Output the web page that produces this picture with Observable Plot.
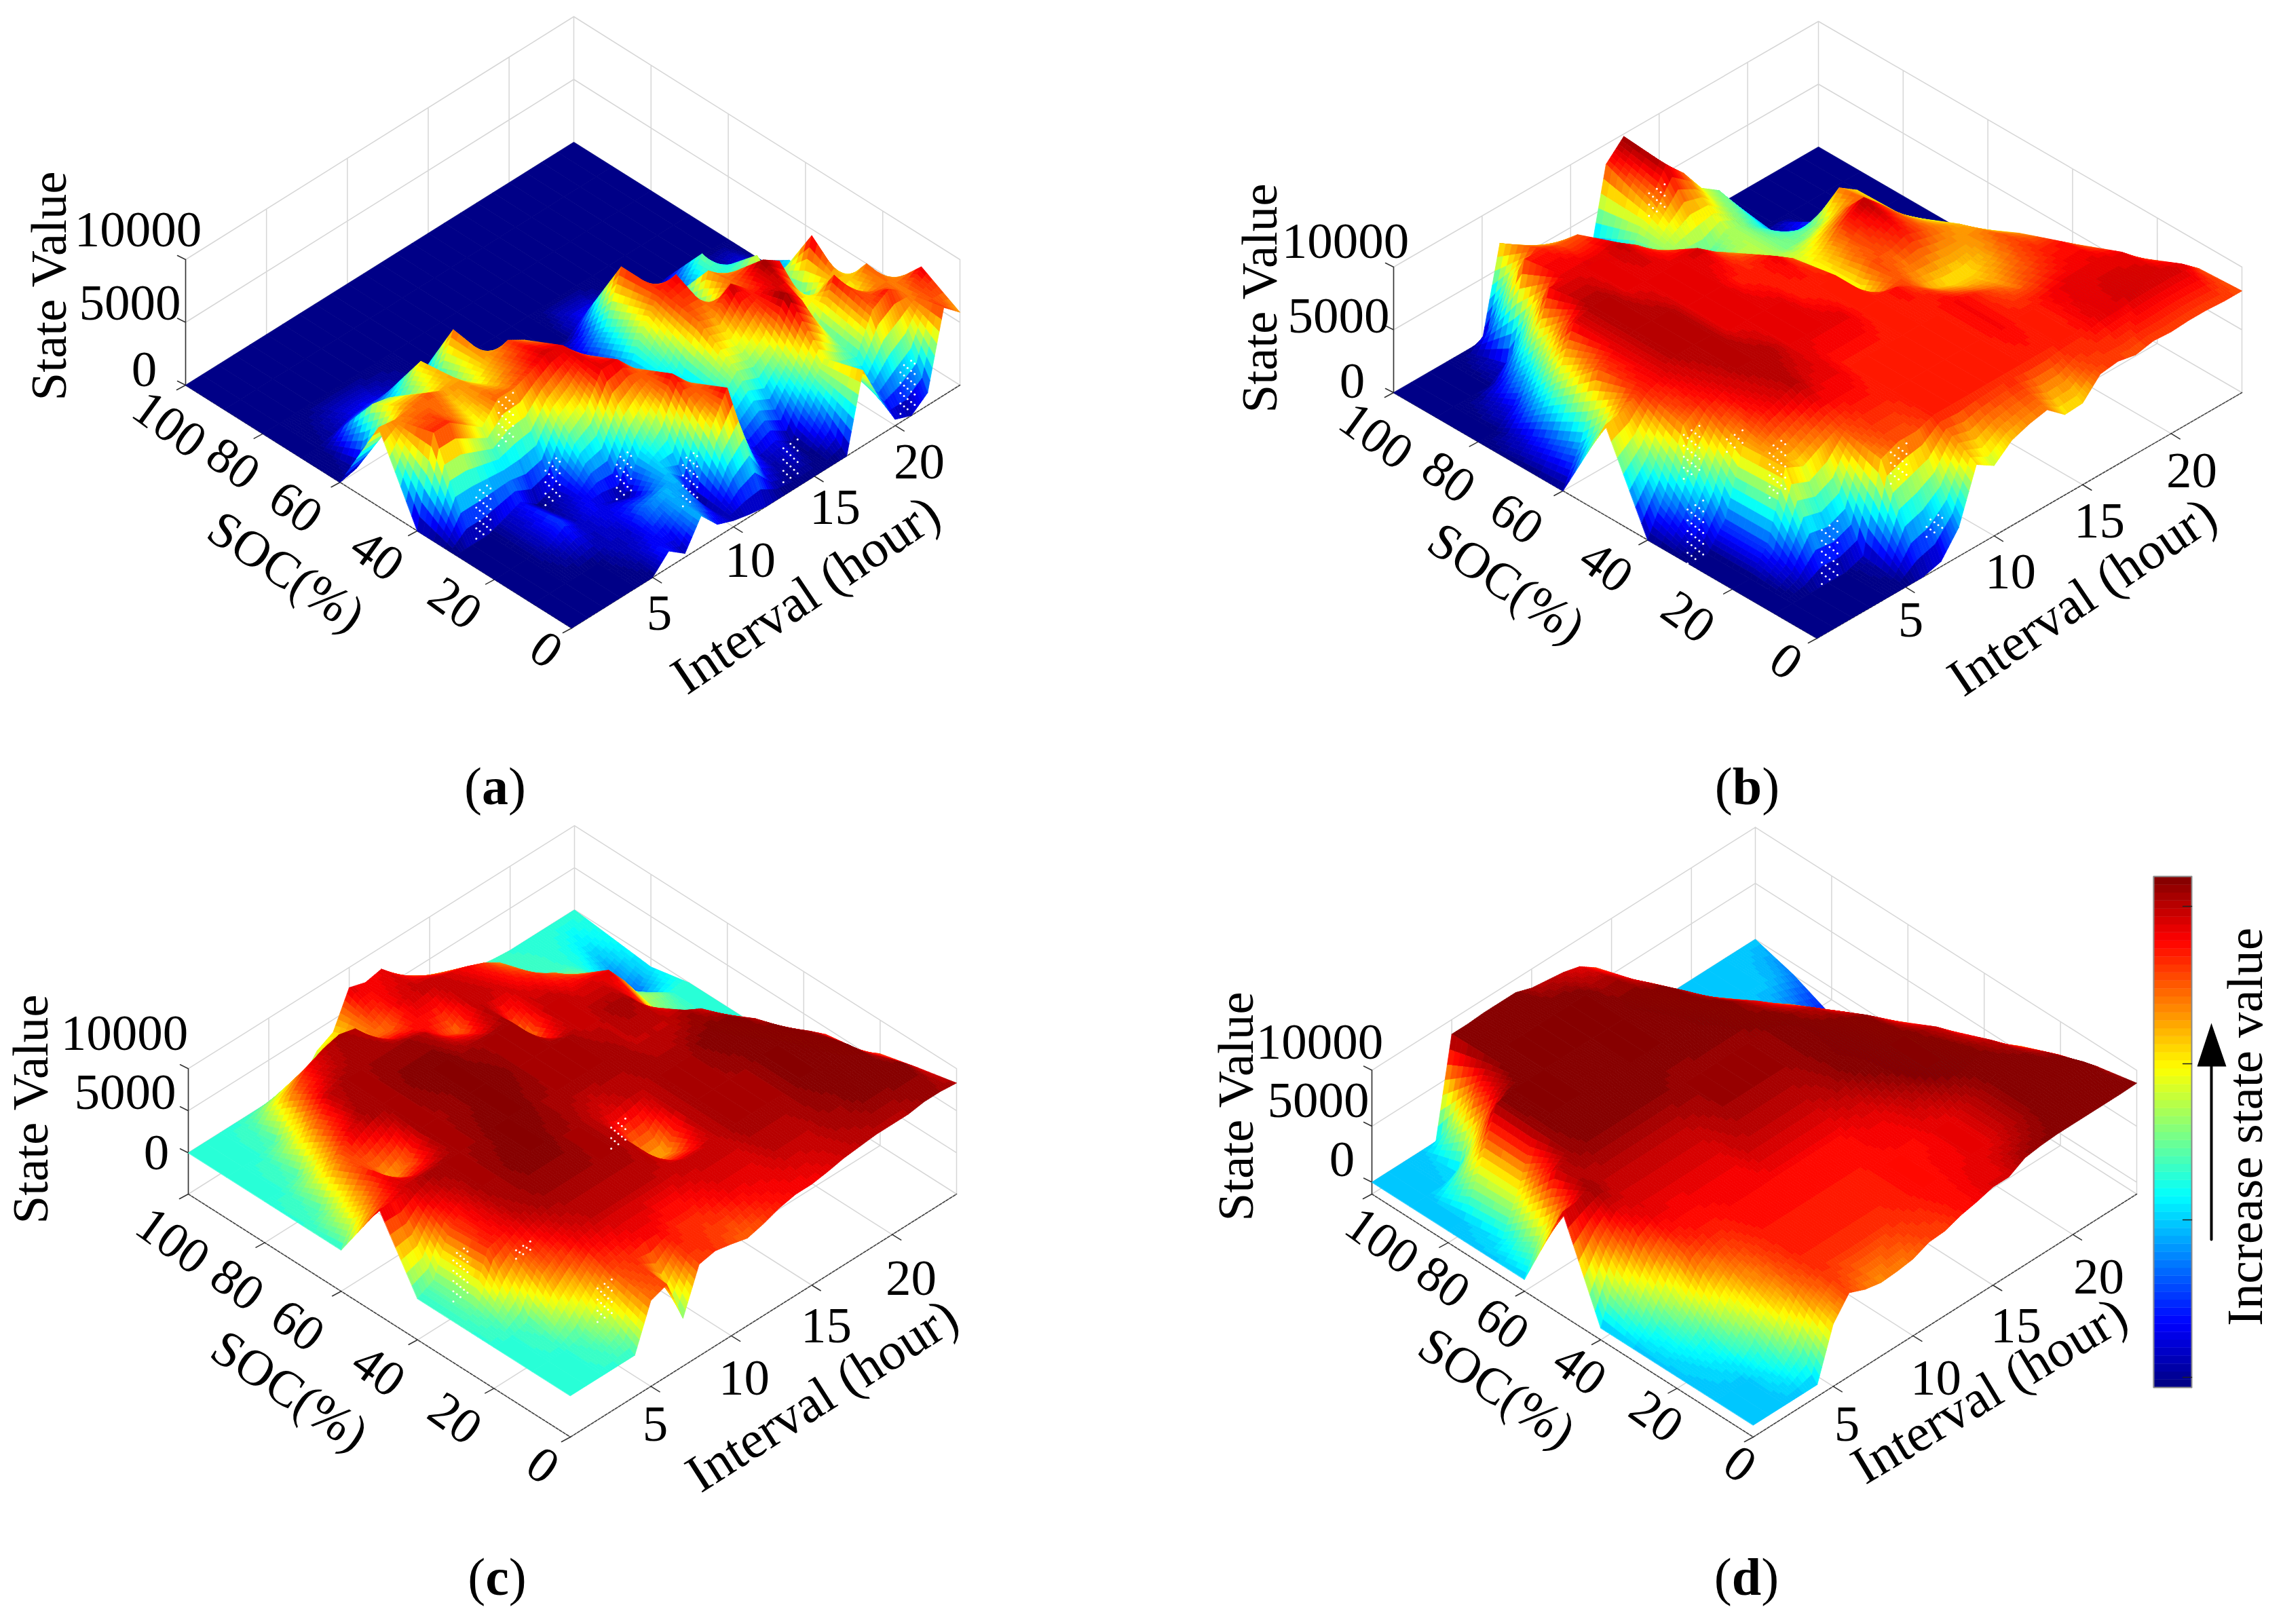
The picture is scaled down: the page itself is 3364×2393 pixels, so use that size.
<!DOCTYPE html>
<html><head><meta charset="utf-8">
<style>html,body{margin:0;padding:0;background:#fff}</style>
<script src="https://cdn.jsdelivr.net/npm/d3@7"></script>
<script src="https://cdn.jsdelivr.net/npm/@observablehq/plot@0.6"></script>
</head><body><script>
// State value in thousands, rows SOC 100..0 step 10, columns interval 0..24
const socLevels=[100,90,80,70,60,50,40,30,20,10,0];
const intervalHours=[0,1,2,3,4,5,6,7,8,9,10,11,12,13,14,15,16,17,18,19,20,21,22,23,24];
const stateA=[
[0,0,0,0,0,0,0,0,0,0,0,0,0,0,0,0,0,0,0,0,0,0,0,0,0],
[0,0,0,0,0,0,0,0,0,0,0,0,0,0,0,0,0,0,0,0,0,0,0,0,0],
[0,0,0,0,0,0,0,0,0,0,0,0,0,0,0,0,0,0,0,0,0,0,0,0,0],
[0,0,.3,.8,1,.8,.5,.3,0,0,0,0,0,0,0,0,0,0,0,0,0,0,0,0,0],
[0,.3,4.6,4.3,3.7,5.6,3,6.5,2,.5,0,0,0,0,0,1,1,.5,0,0,0,0,0,0,0],
[6.3,6.1,6.3,6.6,6,6,5,6,6.8,6,4,3,2,1,3,7,3,1.5,2,2,4,2,.5,1,0],
[0,7,7,6,5,6.5,6.5,7,7.7,7.5,6,4,3,2,5,7,7.5,2,6.2,5,3,5,2,3,1],
[0,0,0,.5,1,0,.5,4,5,7.5,7.5,6,4,3,3,6.5,6,7.9,6.7,8.2,7.3,2,7.7,2.3,2],
[0,0,0,.5,1.5,.5,1,.5,0,3,5,7.5,6,3,3,4.5,4,5,8.3,6.9,4,7.3,5,6.6,4],
[0,0,0,0,0,.5,.5,2,2.5,2.5,0,5,7.5,2,.5,.9,0,3,5,4,3.5,6.5,7.3,6.2,7.5],
[0,0,0,0,0,0,1.3,.3,2.5,1,.5,.2,0,0,0,0,0,0,6,3,.5,0,1,7,5.8]];
const stateB=[
[0,0,0,0,0,0,7,6,4.7,4,3.2,1,8.4,9.8,7,4,0,0,0,0,0,0,0,0,0],
[0,0,0,0,1,8.5,8.5,8,8,5,5,4,7,9.5,8,6,5,3,0,0,0,0,0,0,0],
[0,0,1.2,4,9,9,9,9,9.3,8.3,7,5.5,5,4.5,5.5,5,4,2.5,1,2,0,0,0,0,0],
[0,1.5,5,9,9.5,9.5,9,9,9,9,9.2,8.1,7.2,6,5.5,5,5,5.5,7.5,6.5,1,0,0,0,0],
[0,3,8,9,9.5,9.5,9.5,9,9,9,8.5,8.5,8.9,7.9,6,7,8.5,9.5,8.1,6.6,5.4,0,0,0,0],
[7.2,7.5,8.5,9,9.5,9.5,9.5,9,9,9,9,8.5,8.5,8.5,5.5,8,8,8.5,8,7.5,6.9,5.7,4.6,0,0],
[0,3,7.5,8.5,9,9.5,9.5,9.5,9,9,9,9,8.5,8.5,8.7,8,7,6.5,6.5,7,8,7.3,3,0,0],
[0,0,2,7,8.5,9,9.5,9,9,8.5,8.5,8.5,8.5,8.5,8.5,8.8,8.5,8,7.5,8,8.5,8.6,7.5,3,0],
[0,0,2,7.2,6.5,7.3,8,8.5,8.5,8.5,8.5,8.5,8.5,8.5,8.5,8.8,8.5,8.5,8.8,9,9,9,8.9,7.6,6],
[0,0,0,0,0,.5,7.4,8,8,8.5,8.5,8.5,8.5,8.5,8.5,8.5,8.5,8.5,9,9,9.2,9.2,9.2,9.1,7.9],
[0,0,0,0,0,0,0,.4,2.3,6.5,5.6,6.8,7.3,7.6,6.4,6.5,8,8.2,7.9,8.2,8.1,8.2,8.2,8.1,8.1]];
const stateC=[
[0,0,0,0,0,0,0,0,2.5,3.5,7.6,7,7.4,5.5,4,3,2,1,.5,.2,0,0,0,0,0],
[0,0,0,.5,5,7,8,8.5,8,5.5,5.5,7.5,8,8,7.5,7,6.2,5,2,.5,.2,0,-.5,-1.5,-.5],
[0,0,.5,5,8,8.5,8.5,8.5,8.5,8.5,8,6.5,5.5,8,8,7.5,7,6.5,5.5,4,2.5,1,-1.5,-3,-1],
[0,.5,5,7.5,8.5,8.5,8.5,9,9,9,8.5,8.5,8.5,8.5,5,8,8,7.5,7.5,7.5,5,2,1.2,0,0],
[0,4,7,4.5,5.5,8.5,8.5,8.5,9,9,9,8.5,8.5,8.5,8.5,8,8,8.5,8.3,6,3,1,0,0,0],
[7.7,7.5,8,8.5,8.5,8.5,8.5,9,9,9,8.5,8.5,8.5,8.5,8.5,8.5,8,8,8,8.5,7.5,5.7,2,.5,0],
[0,1,6,7.5,8.5,8.5,9,9,9,8.5,8.5,8,7.5,8,8,8.5,8.5,8.5,9,9,9.2,8,6,3,1],
[0,1,6.4,7,8,8.5,8.5,8.5,8.5,8.5,8.5,8,4.5,4.5,8,8.5,8.5,8.5,8.5,9,9,9.5,8.2,6.6,3],
[0,0,.5,5,6.5,7.5,8,8,8,8,8,8,8,8,8,8.5,8.5,8.5,8.5,9,9,9.5,9.5,7.4,6],
[0,0,0,.5,3,6,6.5,7,7,6.5,6.5,7,7.5,7.5,7.5,8,8,8,8.5,8.5,9,9,9,9,7.2],
[0,0,0,0,0,5.3,6,.8,6,6.4,6,5.5,6,6.7,7.1,7.1,7.4,7.8,8,8.2,8.2,8.2,8.5,8.5,8.3]];
const stateD=[
[0,0,0,0,0,8.7,8.7,8.8,8.8,8.8,8.3,8.1,7.9,7.5,6.5,4,1,0,0,0,0,0,0,0,0],
[0,0,0,.3,6,8.8,9,9,9,9,9,9,8.5,8.5,7.6,6.4,4,1.5,0,0,0,0,0,-.3,-1],
[0,0,4,8.6,9,9,9,9,9,9,9,9,9,9,9,7.8,6.5,5.4,2,0,0,-.3,-1,-2,-2.5],
[0,.5,4,8.5,9,9,9,9.2,9.2,9,9,9,9.2,9.2,9.2,9,8.2,7.3,6.2,5.2,3,1,-2,-3,-4],
[0,3,8,8.5,8.7,8.7,8.7,8.7,8.7,8.7,8.5,8.5,8.5,8.5,8.5,8.7,9,8.5,8,6.9,5.8,4,1,-2,-4],
[8.2,8.3,8.5,8,8,8,8,8,8,8.2,8.5,8.5,8.5,8.5,8.5,8.7,9,9,9,8.6,7.4,6.2,4,1.5,-2],
[0,4.3,7.1,7.6,7.5,7.5,7.5,7.5,7.5,8,8,8,8,8,8.2,8.5,9,9.2,9,9,8.5,7.9,6.6,5,3],
[0,1,3.5,6.5,7,7,7.2,7.2,7.2,7.2,7.2,7.2,7.2,7.2,7.5,7.5,8,8.5,9,9,9,8.5,8,6.7,5.6],
[0,.3,1,3.5,5.5,6.5,7,7,7,7,7,7,7,7.2,7.2,7.2,7.5,7.5,8,8.5,9,9,8.8,8.2,7],
[0,0,0,1,4,6,6.8,6.8,6.8,6.8,6.8,6.8,7,7.2,7.2,7.4,7.5,7.5,8,8.5,9,9.2,9.3,9.5,8.1],
[0,0,0,0,0,4.5,6.4,5.8,5.5,5.6,5.8,6.4,6.5,7,7.3,7.7,7.7,8.5,8.7,8.8,8.8,8.8,8.8,8.8,8.85]];

// White specks on the steep faces: SOC, interval, lowest and highest state value of each patch
const speckA=[[30,1.7,.3,4],[28,5.5,.3,3.5],[38,5,3.5,7],[20,8,.3,3.5],[10,9.7,.3,4],[2,14,.3,3],[1,21,.3,4]];
const speckB=[[30,.3,.2,4.5],[38,2,4,7.5],[32,3,6.5,7.5],[10,3.1,.2,4.5],[24,3.5,4,8],[7,8.3,.3,1.5],[10,7,5,7.5],[88,12,7,8.8]];
const speckC=[[33,1,1,6.5],[25,3,6,7],[38,12,4.5,7],[10,4.5,1,5]];
const speckD=[];

const socTicks=[100,80,60,40,20,0];
const intervalTicks=[5,10,15,20];
const stateTicks=[0,5,10];
const stateTickLabels=["0","5000","10000"];
const panelLabels=["(a)","(b)","(c)","(d)"];

// Panel frames: the projection of the 3-D box, and where its labels sit
const panels=[
 {state:stateA,speck:speckA,L:[273,567],F:[842,925],R:[1414,567],zBottom:0,k:18.5,cmin:0,cmax:8.3,
  title:[72,421],z:[[212,544],[191,446],[203,338]],
  soc:[[249,625],[343,683],[435,747],[555,818],[670,889],[804,957]],socT:[421,842],
  itv:[[971,903],[1105,825],[1230,747],[1354,680]],itvT:[1187,876,-34],lab:[729,1160]},
 {state:stateB,speck:speckB,L:[2053,578],F:[2677,940],R:[3303,578],zBottom:0,k:18.5,cmin:0,cmax:10,
  title:[1856,439],z:[[1992,561],[1972,465],[1982,355]],
  soc:[[2027,642],[2134,703],[2234,764],[2366,835],[2487,909],[2631,974]],socT:[2219,859],
  itv:[[2815,913],[2962,842],[3093,767],[3229,693]],itvT:[3068,879,-34],lab:[2574,1160]},
 {state:stateC,speck:speckC,L:[277,1759],F:[840,2117],R:[1409,1759],zBottom:-4.9,k:12.4,cmin:-6.5,cmax:9,
  title:[45,1634],z:[[230,1698],[184,1609],[183,1522]],
  soc:[[254,1828],[349,1893],[438,1953],[557,2020],[670,2090],[799,2159]],socT:[426,2049],
  itv:[[965,2098],[1096,2030],[1217,1953],[1342,1883]],itvT:[1211,2056,-32.6],lab:[732,2325]},
 {state:stateD,speck:speckD,L:[2021,1759],F:[2583,2117],R:[3148,1759],zBottom:-1.06,k:16.5,cmin:-4.2,cmax:8.9,
  title:[1821,1630],z:[[1977,1708],[1942,1621],[1944,1535]],
  soc:[[2036,1828],[2126,1889],[2213,1950],[2327,2018],[2440,2087],[2563,2157]],socT:[2205,2045],
  itv:[[2721,2098],[2852,2030],[2970,1953],[3092,1881]],itvT:[2931,2049,-31],lab:[2573,2325]}
];

const project=(p,soc,itv,z)=>{
  const s=(100-soc)/100,t=itv/24;
  return [p.L[0]+(p.F[0]-p.L[0])*s+(p.R[0]-p.F[0])*t,
          p.L[1]+(p.F[1]-p.L[1])*s+(p.R[1]-p.F[1])*t-(z-p.zBottom)*p.k];
};
const poly=pts=>({type:"Polygon",coordinates:[[...pts,pts[0]]]});
const lines=segs=>({type:"MultiLineString",coordinates:segs});

// Surface patches ordered back to front; each grid cell is shaded in small steps, as MATLAB's interpolated shading does
const N=7;
function surface(p){
  const out=[];
  const norm=z=>Math.max(0,Math.min(.9999,(z-p.cmin)/(p.cmax-p.cmin)));
  for(let r=0;r<socLevels.length-1;r++){
    for(let c=intervalHours.length-2;c>=0;c--){
      const a=p.state[r][c],b=p.state[r][c+1],d=p.state[r+1][c],e=p.state[r+1][c+1];
      const s0=socLevels[r],s1=socLevels[r+1],i0=intervalHours[c],i1=intervalHours[c+1];
      if(a===b&&a===d&&a===e){
        out.push({t:norm(a),g:poly([project(p,s0,i0,a),project(p,s0,i1,a),project(p,s1,i1,a),project(p,s1,i0,a)])});
        continue;
      }
      const at=(u,v)=>[s0+(s1-s0)*u,i0+(i1-i0)*v,(a*(1-v)+b*v)*(1-u)+(d*(1-v)+e*v)*u];
      for(let m=0;m<N;m++)for(let n=N-1;n>=0;n--){
        const u0=m/N,u1=(m+1)/N,v0=n/N,v1=(n+1)/N;
        out.push({t:norm(at((u0+u1)/2,(v0+v1)/2)[2]),
          g:poly([at(u0,v0),at(u0,v1),at(u1,v1),at(u1,v0)].map(q=>project(p,q[0],q[1],q[2])))});
      }
    }
  }
  return out;
}
function specks(p){
  const out=[];
  for(const [soc,itv,z0,z1] of p.speck){
    const steps=Math.max(2,Math.round((z1-z0)*p.k/8));
    for(let k=0;k<=steps;k++){
      const z=z0+(z1-z0)*k/steps;
      for(let w=-2;w<=2;w++){
        if((k+w)%2) continue;
        out.push(project(p,soc,itv+w*.22,z));
      }
    }
  }
  return out;
}

// Box walls and floor grid
function grid(p){
  const zb=p.zBottom,segs=[];
  for(const s of [100,80,60,40,20,0]) segs.push([project(p,s,0,zb),project(p,s,24,zb)]);
  for(const i of [0,5,10,15,20,24]) segs.push([project(p,100,i,zb),project(p,0,i,zb)]);
  for(const s of [100,80,60,40,20,0]) segs.push([project(p,s,24,zb),project(p,s,24,10)]);
  for(const i of [0,5,10,15,20,24]) segs.push([project(p,100,i,zb),project(p,100,i,10)]);
  for(const z of stateTicks.concat(zb)){
    segs.push([project(p,100,0,z),project(p,100,24,z)]);
    segs.push([project(p,100,24,z),project(p,0,24,z)]);
  }
  return lines(segs);
}
function axes(p){
  const zb=p.zBottom;
  return lines([[project(p,100,0,zb),project(p,0,0,zb)],[project(p,0,0,zb),project(p,0,24,zb)]]);
}
function zAxis(p){
  const zb=p.zBottom,segs=[[project(p,100,0,zb),project(p,100,0,10)]];
  for(const z of stateTicks){const q=project(p,100,0,z);segs.push([q,[q[0]-12,q[1]-6]]);}
  for(const s of socTicks){const q=project(p,s,0,zb);segs.push([q,[q[0]-13,q[1]+7]]);}
  for(const i of intervalTicks){const q=project(p,0,i,zb);segs.push([q,[q[0]+13,q[1]+8]]);}
  return lines(segs);
}

// Colour: 64-step jet
const jet=t=>{
  const f=x=>Math.round(255*Math.max(0,Math.min(1,1.5-Math.abs(4*t-x))));
  return `rgb(${f(3)},${f(2)},${f(1)})`;
};
const jetRange=d3.range(64).map(i=>jet((i+.5)/64));
const jetThresholds=d3.range(1,64).map(i=>i/64);

// Colour bar
const barX=[3173,3229],barY=[2044,1291];
const barData=d3.range(64).map(i=>({t:(i+.5)/64,g:poly([
  [barX[0],barY[0]+(barY[1]-barY[0])*i/64],[barX[1],barY[0]+(barY[1]-barY[0])*i/64],
  [barX[1],barY[0]+(barY[1]-barY[0])*(i+1)/64],[barX[0],barY[0]+(barY[1]-barY[0])*(i+1)/64]])}));
const barTicks=[1335,1567,1797,2029];

const font={fontFamily:"Liberation Serif",fill:"#000",fontSize:75};
const marks=[];
for(const p of panels){
  marks.push(Plot.geo([grid(p)],{stroke:"#d6d6d6",strokeWidth:1.5,fill:"none"}));
  marks.push(Plot.geo([axes(p)],{stroke:"#444",strokeWidth:1.6,strokeDasharray:"4,2",fill:"none"}));
  marks.push(Plot.geo([zAxis(p)],{stroke:"#333",strokeWidth:1.6,fill:"none"}));
  const s=surface(p);
  marks.push(Plot.geo(s,{geometry:d=>d.g,fill:d=>d.t,stroke:d=>d.t,strokeWidth:.8}));
  const sp=specks(p);
  if(sp.length) marks.push(Plot.dot(sp,{x:d=>d[0],y:d=>d[1],r:1.5,fill:"#fff",stroke:"none"}));
  const txt=(rows,opts)=>marks.push(Plot.text(rows,{x:d=>d[0],y:d=>d[1],text:d=>d[2],...font,...opts}));
  txt([[...p.title,"State Value"]],{rotate:-90});
  txt(p.z.map((q,i)=>[...q,stateTickLabels[i]]),{});
  txt(p.soc.map((q,i)=>[...q,String(socTicks[i])]),{rotate:36});
  txt([[...p.socT,"SOC(%)"]],{rotate:33.5});
  txt(p.itv.map((q,i)=>[...q,String(intervalTicks[i])]),{});
  txt([[p.itvT[0],p.itvT[1],"Interval (hour)"]],{rotate:p.itvT[2],fontSize:78});
}
panels.forEach((p,i)=>marks.push(Plot.text([[...p.lab,panelLabels[i]]],{x:d=>d[0],y:d=>d[1],text:d=>d[2],...font,fontSize:78})));
marks.push(Plot.geo(barData,{geometry:d=>d.g,fill:d=>d.t,stroke:d=>d.t,strokeWidth:.5}));
marks.push(Plot.geo([poly([[barX[0],barY[0]],[barX[1],barY[0]],[barX[1],barY[1]],[barX[0],barY[1]]])],{fill:"none",stroke:"#8a8a8a",strokeWidth:2}));
marks.push(Plot.geo([lines(barTicks.map(y=>[[barX[1]-13,y],[barX[1],y]]))],{stroke:"#222",strokeWidth:1.5,fill:"none"}));
marks.push(Plot.geo([lines([[[3258,1826],[3258,1571]]])],{stroke:"#000",strokeWidth:4,fill:"none"}));
marks.push(Plot.geo([poly([[3237,1571],[3280,1571],[3258,1507]])],{fill:"#000",stroke:"none"}));
marks.push(Plot.text([[3308,1660,"Increase state value"]],{x:d=>d[0],y:d=>d[1],text:d=>d[2],...font,rotate:-90}));

const chart=Plot.plot({
  width:3364,height:2393,margin:0,
  projection:d3.geoIdentity(),
  style:{background:"#fff"},
  color:{type:"threshold",domain:jetThresholds,range:jetRange},
  marks
});
document.body.appendChild(chart);
// (a) etc.: the letter is bold
chart.querySelectorAll("text").forEach(t=>{
  const m=/^\(([a-d])\)$/.exec(t.textContent);
  if(m){const host=t.querySelector("tspan")||t;host.innerHTML=`(<tspan font-weight="bold">${m[1]}</tspan>)`;}
});
</script></body></html>
